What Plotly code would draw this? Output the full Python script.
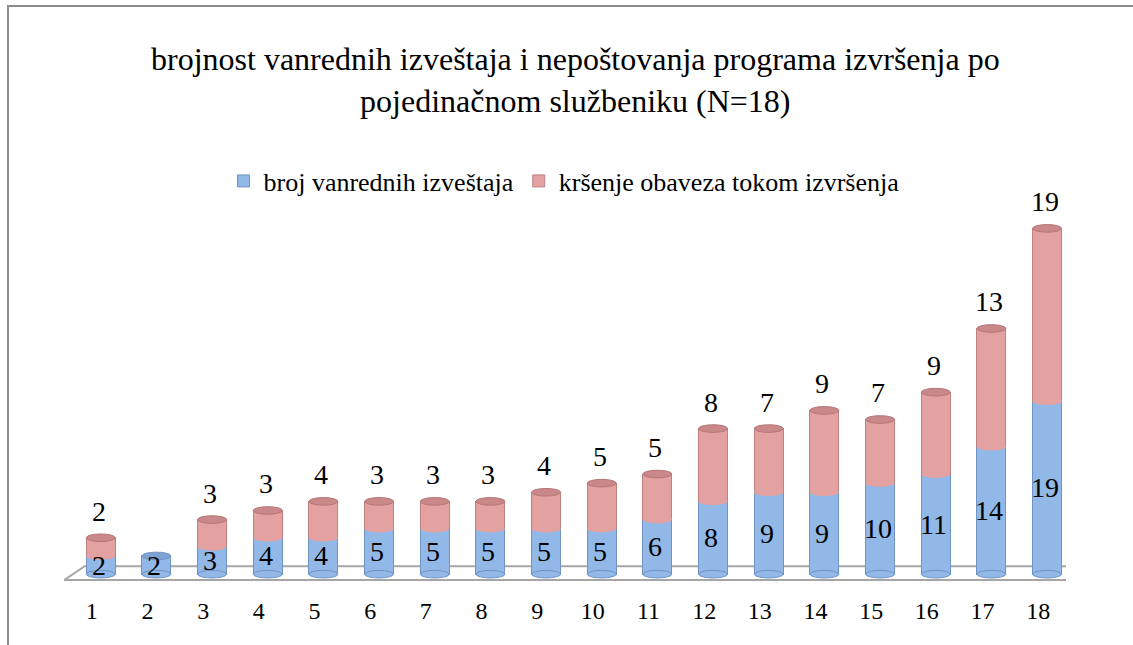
import plotly.graph_objects as go

categories = list(range(1, 19))
blue_vals = [2, 2, 3, 4, 4, 5, 5, 5, 5, 5, 6, 8, 9, 9, 10, 11, 14, 19]
red_vals = [2, 0, 3, 3, 4, 3, 3, 3, 4, 5, 5, 8, 7, 9, 7, 9, 13, 19]
tick_labels = [str(c) for c in categories]
name_blue = "broj vanrednih izveštaja"
name_red = "kršenje obaveza tokom izvršenja"
title_text = ("brojnost vanrednih izveštaja i nepoštovanja programa izvršenja po<br>"
              "pojedinačnom službeniku (N=18)")

W, H = 1133, 645
PX_PER_UNIT = 9.1
YMIN = -1.3
ML, MR, MT = 64, 67, 160
MB = int(round(71 + YMIN * PX_PER_UNIT))
plot_h = H - MT - MB
plot_w = W - ML - MR
ymax = plot_h / PX_PER_UNIT + YMIN

BAR_W = 0.52
SHIFT = 0.16  # perspective shift of bars to the right of the tick
CAP = 0.42    # half height of ellipse caps (data units)

BLUE = "#92b8e8"
BLUE_EDGE = "#6f93c4"
BLUE_CAP = "#7ea2d3"
RED = "#e3a1a1"
RED_EDGE = "#bf8080"
RED_CAP = "#c98889"
FONT = "Liberation Serif, Times New Roman, serif"


def px_to_paper_x(px):
    return (px - ML) / plot_w


def px_to_paper_y(py):
    return (H - MB - py) / plot_h


fig = go.Figure()
fig.add_trace(go.Bar(
    x=categories, y=blue_vals, name=name_blue,
    width=BAR_W, offset=SHIFT - BAR_W / 2,
    marker=dict(color=BLUE, line=dict(color=BLUE_EDGE, width=1)),
))
fig.add_trace(go.Bar(
    x=categories, y=red_vals, name=name_red,
    width=BAR_W, offset=SHIFT - BAR_W / 2,
    marker=dict(color=RED, line=dict(color=RED_EDGE, width=1)),
))

shapes = []
# floor parallelogram
shapes.append(dict(
    type="path", xref="x", yref="y", layer="below",
    path="M 0.5,-0.65 L 18.52,-0.65 L 18.85,0.88 L 0.87,0.88 Z",
    line=dict(color="#a6a6a6", width=2), fillcolor="white",
))
for c, b, r in zip(categories, blue_vals, red_vals):
    xc = c + SHIFT
    x0, x1 = xc - BAR_W / 2, xc + BAR_W / 2
    # rounded bottom
    shapes.append(dict(type="circle", xref="x", yref="y", layer="above",
                       x0=x0, x1=x1, y0=-CAP, y1=CAP,
                       fillcolor=BLUE, line=dict(color=BLUE_EDGE, width=1)))
    if r > 0:
        # curved boundary blue/red
        shapes.append(dict(type="circle", xref="x", yref="y", layer="above",
                           x0=x0, x1=x1, y0=b - CAP, y1=b + CAP,
                           fillcolor=RED, line=dict(width=0)))
        shapes.append(dict(type="circle", xref="x", yref="y", layer="above",
                           x0=x0, x1=x1, y0=b + r - CAP, y1=b + r + CAP,
                           fillcolor=RED_CAP, line=dict(color="#b77676", width=1)))
    else:
        shapes.append(dict(type="circle", xref="x", yref="y", layer="above",
                           x0=x0, x1=x1, y0=b - CAP, y1=b + CAP,
                           fillcolor=BLUE_CAP, line=dict(color=BLUE_EDGE, width=1)))

# outer frame (left and top edges)
shapes.append(dict(type="line", xref="paper", yref="paper",
                   x0=px_to_paper_x(8), x1=px_to_paper_x(8),
                   y0=px_to_paper_y(6), y1=px_to_paper_y(H + 5),
                   line=dict(color="#8c8c8c", width=2)))
shapes.append(dict(type="line", xref="paper", yref="paper",
                   x0=px_to_paper_x(7), x1=px_to_paper_x(W + 5),
                   y0=px_to_paper_y(6), y1=px_to_paper_y(6),
                   line=dict(color="#8c8c8c", width=2)))

annotations = []
for c, b, r in zip(categories, blue_vals, red_vals):
    xl = c + SHIFT - 0.04
    annotations.append(dict(x=xl, y=b / 2, xref="x", yref="y", text=str(b),
                            showarrow=False, xanchor="center", yanchor="middle",
                            font=dict(family=FONT, size=28, color="black")))
    if r > 0:
        annotations.append(dict(x=xl, y=b + r, xref="x", yref="y", text=str(r),
                                showarrow=False, xanchor="center", yanchor="bottom",
                                yshift=9,
                                font=dict(family=FONT, size=28, color="black")))

# title as annotation (two centered lines)
annotations.append(dict(x=px_to_paper_x(575), y=px_to_paper_y(80), xref="paper",
                        yref="paper", text=title_text, showarrow=False,
                        xanchor="center", yanchor="middle", align="center",
                        font=dict(family=FONT, size=32, color="black")))

fig.update_layout(
    width=W, height=H,
    margin=dict(l=ML, r=MR, t=MT, b=MB, autoexpand=False),
    barmode="stack",
    plot_bgcolor="white", paper_bgcolor="white",
    font=dict(family=FONT, color="black"),
    legend=dict(orientation="h", x=px_to_paper_x(564), xanchor="center",
                y=px_to_paper_y(181), yanchor="middle",
                traceorder="normal",
                font=dict(family=FONT, size=26, color="black"),
                itemwidth=30),
    xaxis=dict(range=[0.5, 18.5], tickmode="array", tickvals=categories,
               ticktext=tick_labels, showgrid=False, zeroline=False,
               showline=False, ticks="", ticklabelstandoff=8,
               tickfont=dict(family=FONT, size=24, color="black")),
    yaxis=dict(range=[YMIN, ymax], visible=False, showgrid=False, zeroline=False),
    shapes=shapes,
    annotations=annotations,
    showlegend=True,
)

fig.write_html(
    "out.html",
    config={"displayModeBar": False},
    post_script="document.body.style.margin='0';document.body.style.overflow='hidden';",
)
